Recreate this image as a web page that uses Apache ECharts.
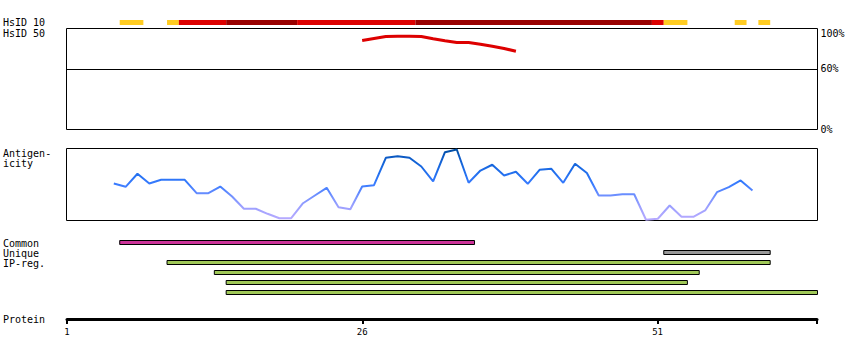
<!DOCTYPE html>
<html><head><meta charset="utf-8">
<script src="https://cdn.jsdelivr.net/npm/echarts@6/dist/echarts.min.js"></script>
<style>html,body{margin:0;padding:0;background:#fff}#c{width:850px;height:360px}</style>
</head><body><div id="c"></div>
<script>
// ---- data ----
const proteinEnd = 64.5;
const proteinTicks = [1, 26, 51];
const proteinTickMarks = [1, 26, 51, 64.5];
// HsID 10 segments: [startResidue, endResidue, level(0=yellow,1=red,2=dark red)]
const hsid10Segments = [
  [6, 7, 0], [10, 10, 0], [11, 14, 1], [15, 20, 2], [21, 30, 1],
  [31, 50, 2], [51, 51, 1], [52, 53, 0], [58, 58, 0], [60, 60, 0]
];
const hsid50Residues = [26, 27, 28, 29, 30, 31, 32, 33, 34, 35, 36, 37, 38, 39];
const hsid50Values = [88.1, 90.1, 92.1, 92.4, 92.4, 92.1, 89.8, 87.8, 86.1, 86.1, 84.5, 82.5, 80.2, 77.5];
const hsid50Ticks = [0, 60, 100];
const antigenResidues = [5, 6, 7, 8, 9, 10, 11, 12, 13, 14, 15, 16, 17, 18, 19, 20, 21, 22, 23, 24,
  25, 26, 27, 28, 29, 30, 31, 32, 33, 34, 35, 36, 37, 38, 39, 40, 41, 42, 43, 44,
  45, 46, 47, 48, 49, 50, 51, 52, 53, 54, 55, 56, 57, 58, 59];
const antigenValues = [51.4, 46.8, 64.9, 51.4, 56.5, 56.5, 56.5, 37.9, 37.9, 47.2,
  33.3, 16.3, 16.3, 9.3, 3.2, 3.2, 24.0, 34.7, 45.4, 18.5,
  15.7, 47.2, 49.0, 87.1, 89.3, 87.1, 75.0, 54.2, 94.9, 98.6,
  52.4, 69.4, 77.4, 62.5, 67.6, 51.0, 70.4, 71.8, 52.4, 78.8,
  66.0, 34.7, 34.7, 36.5, 36.5, 1.0, 2.4, 20.8, 5.1, 5.1,
  13.9, 39.3, 46.3, 55.6, 41.7];
// features: [startResidue, endResidue, row, type(0=common,1=unique,2=ip-reg)]
const features = [
  [6, 35, 0, 0],
  [52, 60, 1, 1],
  [10, 60, 2, 2],
  [14, 54, 3, 2],
  [15, 53, 4, 2],
  [15, 64, 5, 2]
];
const leftLabels = [
  ['HsID 10', 22.5], ['HsID 50', 33], ['Antigen-', 153], ['icity', 163],
  ['Common', 243], ['Unique', 253], ['IP-reg.', 263], ['Protein', 319]
];

// ---- styles ----
const FONT = '"DejaVu Sans Mono", monospace';
const hsidColors = ['#ffcc22', '#dd0000', '#990000'];
const featureColors = ['#cc3399', '#999999', '#a0c858'];
const L = 66.5, W = 751;

const chart = echarts.init(document.getElementById('c'), null, {renderer: 'svg'});

const xBase = {type: 'value', min: 1, max: proteinEnd, show: false};
const option = {
  animation: false,
  backgroundColor: '#fff',
  grid: [
    {left: L, width: W, top: 20, height: 5, outerBoundsMode: 'none'},
    {left: L, width: W, top: 28.5, height: 101, show: true, borderColor: '#000', borderWidth: 1, outerBoundsMode: 'none'},
    {left: L, width: W, top: 148.5, height: 72, show: true, borderColor: '#000', borderWidth: 1, outerBoundsMode: 'none'},
    {left: L, width: W, top: 238, height: 60, outerBoundsMode: 'none'},
    {left: 67, width: 750, top: 300, height: 19, outerBoundsMode: 'none'}
  ],
  xAxis: [
    Object.assign({gridIndex: 0}, xBase),
    Object.assign({gridIndex: 1}, xBase),
    Object.assign({gridIndex: 2}, xBase),
    Object.assign({gridIndex: 3}, xBase),
    {
      gridIndex: 4, type: 'value', min: 1, max: proteinEnd, position: 'bottom',
      axisLine: {show: true, lineStyle: {color: '#000', width: 3}},
      axisTick: {show: true, customValues: proteinTickMarks, length: 5, lineStyle: {color: '#000', width: 2}},
      axisLabel: {show: true, customValues: proteinTicks, margin: 8, color: '#000', fontFamily: FONT, fontSize: 9},
      splitLine: {show: false}
    }
  ],
  yAxis: [
    {gridIndex: 0, type: 'value', min: 0, max: 1, show: false},
    {
      gridIndex: 1, type: 'value', min: 0, max: 100, position: 'right',
      axisLine: {show: false}, axisTick: {show: false}, splitLine: {show: false},
      axisLabel: {show: true, customValues: hsid50Ticks, margin: 3, color: '#000',
        fontFamily: FONT, fontSize: 10, formatter: v => v + '%', verticalAlignMaxLabel: 'top'}
    },
    {gridIndex: 2, type: 'value', min: 0, max: 100, show: false},
    {gridIndex: 3, type: 'value', min: -0.5, max: 5.5, inverse: true, show: false},
    {gridIndex: 4, type: 'value', min: 0, max: 1, show: false}
  ],
  visualMap: {
    show: false, type: 'continuous', seriesIndex: 2, dimension: 1, min: 0, max: 100,
    inRange: {color: ['#b8aaff', '#aaa6ff', '#9a9fff', '#7f96ff', '#5c88ff', '#3a7cff',
      '#2a74f5', '#1d6ce8', '#1464d8', '#0a58c0', '#004c9c']}
  },
  series: [
    {
      type: 'custom', xAxisIndex: 0, yAxisIndex: 0,
      data: hsid10Segments,
      encode: {x: [0, 1]},
      renderItem: (params, api) => {
        const s = api.coord([api.value(0) - 0.5, 1]);
        const e = api.coord([api.value(1) + 0.5, 0]);
        return {type: 'rect', shape: {x: s[0], y: s[1], width: e[0] - s[0], height: e[1] - s[1]},
          style: {fill: hsidColors[api.value(2)]}};
      }
    },
    {
      type: 'line', xAxisIndex: 1, yAxisIndex: 1,
      data: hsid50Residues.map((r, i) => [r, hsid50Values[i]]),
      showSymbol: false, symbol: 'none',
      lineStyle: {color: '#dd0000', width: 3},
      markLine: {silent: true, symbol: 'none', label: {show: false},
        lineStyle: {color: '#000', width: 1, type: 'solid'}, data: [{yAxis: 60}]}
    },
    {
      type: 'line', xAxisIndex: 2, yAxisIndex: 2,
      data: antigenResidues.map((r, i) => [r, antigenValues[i]]),
      showSymbol: false, symbol: 'none',
      lineStyle: {width: 2}
    },
    {
      type: 'custom', xAxisIndex: 3, yAxisIndex: 3,
      data: features,
      encode: {x: [0, 1], y: 2},
      renderItem: (params, api) => {
        const s = api.coord([api.value(0) - 0.5, api.value(2)]);
        const e = api.coord([api.value(1) + 0.5, api.value(2)]);
        return {type: 'rect', shape: {x: s[0], y: s[1] - 2.5, width: e[0] - s[0], height: 4},
          style: {fill: featureColors[api.value(3)], stroke: '#000', lineWidth: 1}};
      }
    }
  ],
  graphic: leftLabels.map(([t, y]) => ({
    type: 'text', x: 3, y: y,
    style: {text: t, font: '10px ' + FONT, fill: '#000', verticalAlign: 'middle'}
  }))
};
chart.setOption(option);
</script>
</body></html>
